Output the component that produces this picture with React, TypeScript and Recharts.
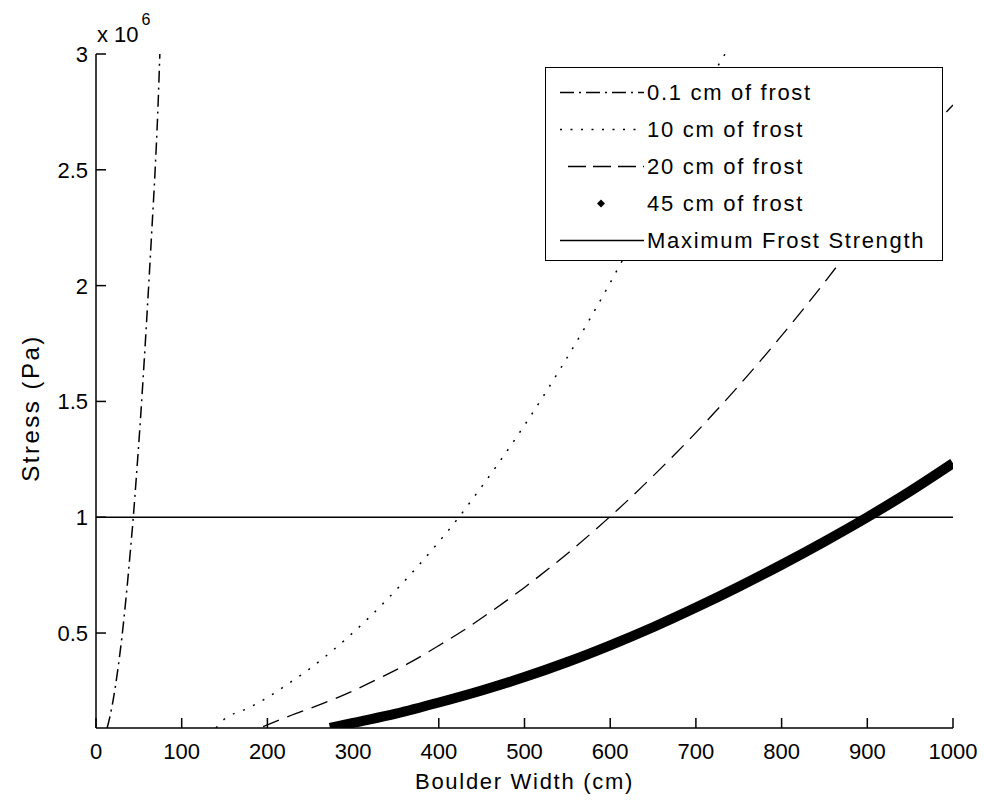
import { LineChart, Line, XAxis, YAxis, ReferenceLine, Legend, Label } from "recharts"

// Boulder width (cm) and stress (x 10^6 Pa)
const width01 = [13, 16, 20, 25, 30, 35, 40, 43.5, 47, 52, 56, 61, 65, 69, 72, 74.5]
const stress01 = [0.09, 0.135, 0.21, 0.33, 0.475, 0.65, 0.85, 1.0, 1.17, 1.43, 1.66, 1.97, 2.23, 2.5, 2.74, 3.0]

const width10 = [140, 145, 180, 202, 225, 248, 272, 294, 317, 342, 374, 396, 423, 441, 467, 490, 506, 522, 543, 575, 614, 650, 690, 726, 734]
const stress10 = [0.09, 0.112, 0.18, 0.226, 0.283, 0.342, 0.412, 0.482, 0.561, 0.654, 0.782, 0.876, 0.998, 1.087, 1.219, 1.342, 1.431, 1.523, 1.648, 1.848, 2.107, 2.36, 2.66, 2.95, 3.0]

const width20 = [195, 228, 265, 296, 335, 366, 401, 429, 460, 500, 530, 553, 578, 599, 608, 637, 668, 693, 722, 746, 775, 800, 827, 853, 870, 910, 950, 990, 1000]
const stress20 = [0.096, 0.145, 0.196, 0.244, 0.313, 0.372, 0.448, 0.512, 0.59, 0.697, 0.783, 0.852, 0.931, 1.0, 1.03, 1.131, 1.244, 1.338, 1.453, 1.551, 1.674, 1.784, 1.906, 2.028, 2.11, 2.31, 2.52, 2.74, 2.78]

const width45 = [273, 300, 350, 400, 450, 500, 550, 600, 650, 700, 750, 800, 850, 900, 950, 1000]
const stress45 = [0.09, 0.112, 0.152, 0.2, 0.252, 0.31, 0.375, 0.447, 0.525, 0.61, 0.7, 0.795, 0.895, 1.0, 1.112, 1.233]

const maxFrostStrength = 1e6

const xTicks = [0, 100, 200, 300, 400, 500, 600, 700, 800, 900, 1000]
const yTicks = [0.5e6, 1e6, 1.5e6, 2e6, 2.5e6, 3e6]
const xDomain = [0, 1000]
const yDomain = [0.09e6, 3e6]

const legendNames = ["0.1 cm of frost", "10 cm of frost", "20 cm of frost", "45 cm of frost", "Maximum Frost Strength"]

const toPoints = (w: number[], s: number[]) => w.map((x, i) => ({ width: x, stress: s[i] * 1e6 }))

const font = '"Liberation Sans", Arial, sans-serif'
const ink = "#000"

function BottomTick({ x, y, payload }: any) {
  return (
    <g>
      <line x1={x} y1={y} x2={x} y2={y - 10} stroke={ink} strokeWidth={1.5} />
      <text x={x} y={y + 31} textAnchor="middle" fontSize={22} fontFamily={font} fill={ink}>
        {payload.value}
      </text>
    </g>
  )
}

function LeftTick({ x, y, payload }: any) {
  return (
    <g>
      <line x1={x} y1={y} x2={x + 10} y2={y} stroke={ink} strokeWidth={1.5} />
      <text x={x - 8} y={y + 8} textAnchor="end" fontSize={22} fontFamily={font} fill={ink}>
        {payload.value / 1e6}
      </text>
    </g>
  )
}

function TopTick({ x, y }: any) {
  return <line x1={x} y1={y} x2={x} y2={y + 10} stroke={ink} strokeWidth={1.5} />
}

function RightTick({ x, y }: any) {
  return <line x1={x} y1={y} x2={x - 10} y2={y} stroke={ink} strokeWidth={1.5} />
}

function Sample({ i }: { i: number }) {
  const y = 18.5
  if (i === 0) return <line x1={14} y1={y} x2={98} y2={y} stroke={ink} strokeWidth={1.5} strokeDasharray="14 5 2 5" />
  if (i === 1) return <line x1={14} y1={y} x2={98} y2={y} stroke={ink} strokeWidth={1.5} strokeDasharray="2 8.5" />
  if (i === 2) return <line x1={22} y1={y} x2={98} y2={y} stroke={ink} strokeWidth={1.5} strokeDasharray="18 7" />
  if (i === 3) return <path d={`M55 ${y - 4} L59 ${y} L55 ${y + 4} L51 ${y} Z`} fill={ink} />
  return <line x1={14} y1={y} x2={98} y2={y} stroke={ink} strokeWidth={1.5} />
}

function FrostLegend() {
  return (
    <div
      style={{
        width: 398,
        height: 194,
        boxSizing: "border-box",
        border: "1.5px solid #000",
        background: "#fff",
        position: "relative",
      }}
    >
      {legendNames.map((name, i) => (
        <div
          key={name}
          style={{ position: "absolute", left: 0, top: 6 + i * 37, height: 37, display: "flex", alignItems: "center" }}
        >
          <svg width={101} height={37}>
            <Sample i={i} />
          </svg>
          <span style={{ fontFamily: font, fontSize: 22, letterSpacing: 1.7, color: ink, whiteSpace: "nowrap" }}>
            {name}
          </span>
        </div>
      ))}
    </div>
  )
}

export default function App() {
  return (
    <div style={{ position: "absolute", left: 0, top: 0, width: 984, height: 801, background: "#fff" }}>
      <LineChart width={984} height={801} margin={{ top: 54, right: 31, bottom: 0, left: 0 }}>
        <XAxis
          type="number"
          dataKey="width"
          domain={xDomain}
          ticks={xTicks}
          allowDataOverflow
          height={73}
          tickSize={0}
          tickMargin={0}
          tickLine={false}
          tick={<BottomTick />}
          axisLine={{ stroke: ink, strokeWidth: 1.5 }}
        >
          <Label
            content={({ viewBox }: any) => (
              <text
                x={viewBox.x + viewBox.width / 2}
                y={viewBox.y + 61}
                textAnchor="middle"
                fontSize={22}
                fontFamily={font}
                style={{ letterSpacing: 1.7 }}
                fill={ink}
              >
                Boulder Width (cm)
              </text>
            )}
          />
        </XAxis>
        <XAxis
          xAxisId="top"
          orientation="top"
          type="number"
          dataKey="width"
          domain={xDomain}
          ticks={xTicks}
          allowDataOverflow
          height={0}
          tickSize={0}
          tickMargin={0}
          tickLine={false}
          tick={<TopTick />}
          axisLine={{ stroke: ink, strokeWidth: 1.5 }}
        />
        <YAxis
          type="number"
          dataKey="stress"
          domain={yDomain}
          ticks={yTicks}
          allowDataOverflow
          width={96}
          tickSize={0}
          tickMargin={0}
          tickLine={false}
          tick={<LeftTick />}
          axisLine={{ stroke: ink, strokeWidth: 1.5 }}
        >
          <Label
            content={({ viewBox }: any) => (
              <text
                transform={`translate(${viewBox.x + 39}, ${viewBox.y + viewBox.height / 2 + 17}) rotate(-90)`}
                textAnchor="middle"
                fontSize={24}
                fontFamily={font}
                style={{ letterSpacing: 2.5 }}
                fill={ink}
              >
                Stress (Pa)
              </text>
            )}
          />
          <Label
            content={({ viewBox }: any) => (
              <text x={viewBox.x + viewBox.width + 1} y={viewBox.y - 12} fontSize={22} fontFamily={font} fill={ink}>
                x 10
                <tspan dx={3} dy={-17} fontSize={16}>
                  6
                </tspan>
              </text>
            )}
          />
        </YAxis>
        <YAxis
          yAxisId="right"
          orientation="right"
          type="number"
          dataKey="stress"
          domain={yDomain}
          ticks={yTicks}
          allowDataOverflow
          width={0}
          tickSize={0}
          tickMargin={0}
          tickLine={false}
          tick={<RightTick />}
          axisLine={{ stroke: ink, strokeWidth: 1.5 }}
        />
        <ReferenceLine y={maxFrostStrength} stroke={ink} strokeWidth={1.5} />
        <Line
          data={toPoints(width01, stress01)}
          dataKey="stress"
          name={legendNames[0]}
          type="monotone"
          stroke={ink}
          strokeWidth={1.5}
          strokeDasharray="12 5 2 5"
          dot={false}
          isAnimationActive={false}
        />
        <Line
          data={toPoints(width10, stress10)}
          dataKey="stress"
          name={legendNames[1]}
          type="monotone"
          stroke={ink}
          strokeWidth={1.5}
          strokeDasharray="2 9"
          dot={false}
          isAnimationActive={false}
        />
        <Line
          data={toPoints(width20, stress20)}
          dataKey="stress"
          name={legendNames[2]}
          type="monotone"
          stroke={ink}
          strokeWidth={1.3}
          strokeDasharray="17 9"
          dot={false}
          isAnimationActive={false}
        />
        <Line
          data={toPoints(width45, stress45)}
          dataKey="stress"
          name={legendNames[3]}
          type="monotone"
          stroke={ink}
          strokeWidth={10}
          dot={false}
          isAnimationActive={false}
        />
        <Legend
          layout="horizontal"
          verticalAlign="middle"
          align="center"
          content={() => <FrostLegend />}
          wrapperStyle={{ position: "absolute", left: 545, top: 67, width: 398, height: 194 }}
        />
      </LineChart>
    </div>
  )
}
